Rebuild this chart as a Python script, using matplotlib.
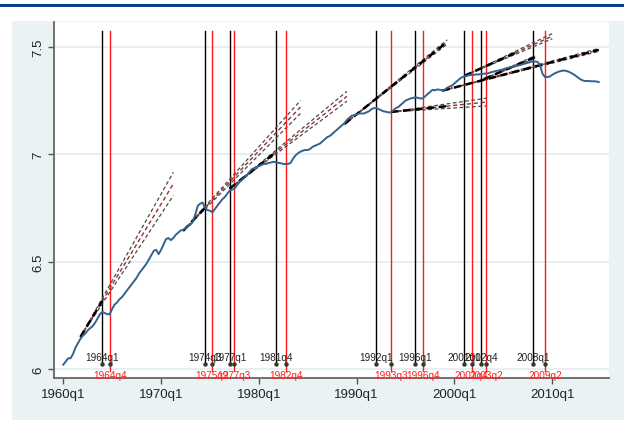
import matplotlib
matplotlib.use('Agg')
import matplotlib.pyplot as plt
from matplotlib.patches import Rectangle

plt.rcParams['font.family'] = ['Liberation Sans', 'DejaVu Sans']

# ---- data: quarterly index (1960q1 = 0) and log level ----
series_start_q = 0
series_v = [
    6.02, 6.035, 6.05, 6.05, 6.07, 6.10, 6.12, 6.14, 6.155, 6.165,
    6.18, 6.19, 6.20, 6.215, 6.235, 6.255, 6.266, 6.26, 6.255, 6.255,
    6.28, 6.30, 6.31, 6.325, 6.335, 6.35, 6.365, 6.38, 6.395, 6.41,
    6.425, 6.445, 6.46, 6.475, 6.49, 6.51, 6.53, 6.55, 6.555, 6.535,
    6.555, 6.58, 6.605, 6.61, 6.60, 6.61, 6.625, 6.635, 6.645, 6.648,
    6.655, 6.665, 6.672, 6.685, 6.72, 6.76, 6.77, 6.775, 6.75, 6.74,
    6.737, 6.73, 6.745, 6.76, 6.775, 6.79, 6.80, 6.815, 6.83, 6.835,
    6.84, 6.855, 6.87, 6.88, 6.89, 6.90, 6.915, 6.93, 6.935, 6.94,
    6.945, 6.95, 6.955, 6.955, 6.96, 6.962, 6.965, 6.963, 6.96, 6.958,
    6.955, 6.955, 6.955, 6.96, 6.98, 6.995, 7.005, 7.012, 7.017, 7.02,
    7.02, 7.025, 7.035, 7.04, 7.045, 7.05, 7.06, 7.07, 7.08, 7.085,
    7.095, 7.105, 7.115, 7.125, 7.135, 7.145, 7.16, 7.17, 7.18, 7.182,
    7.185, 7.19, 7.19, 7.19, 7.195, 7.20, 7.21, 7.215, 7.215, 7.21,
    7.205, 7.20, 7.198, 7.195, 7.195, 7.205, 7.215, 7.22, 7.23, 7.24,
    7.25, 7.255, 7.26, 7.262, 7.265, 7.263, 7.26, 7.26, 7.27, 7.28,
    7.29, 7.30, 7.298, 7.302, 7.30, 7.298, 7.30, 7.31, 7.315, 7.32,
    7.33, 7.34, 7.35, 7.358, 7.362, 7.365, 7.368, 7.37, 7.37, 7.372,
    7.372, 7.374, 7.375, 7.376, 7.378, 7.382, 7.385, 7.388, 7.39, 7.393,
    7.396, 7.40, 7.403, 7.405, 7.408, 7.41, 7.413, 7.416, 7.42, 7.423,
    7.426, 7.43, 7.432, 7.432, 7.43, 7.415, 7.375, 7.36, 7.36, 7.362,
    7.37, 7.377, 7.382, 7.386, 7.389, 7.39, 7.387, 7.383, 7.377, 7.37,
    7.362, 7.353, 7.346, 7.342, 7.341, 7.341, 7.34, 7.34, 7.339, 7.336,
]
series_q = list(range(series_start_q, series_start_q + len(series_v)))

peak_q = [16, 58, 68, 87, 128, 144, 164, 171, 192]
peak_labels = ['1964q1', '1974q3', '1977q1', '1981q4', '1992q1',
               '1996q1', '2001q1', '2002q4', '2008q1']
trough_q = [19, 61, 70, 91, 134, 147, 167, 173, 197]
trough_labels = ['1964q4', '1975q2', '1977q3', '1982q4', '1993q3',
                 '1996q4', '2001q4', '2003q2', '2009q2']

# projected trends: start, end, band half-width at end, end of bold segment
proj_start_q = [7, 49, 68, 115, 134, 164, 155, 172]
proj_start_v = [6.149, 6.643, 6.84, 7.141, 7.197, 7.365, 7.296, 7.35]
proj_end_q = [45, 97, 116, 157, 173, 200, 219, 193]
proj_end_v = [6.862, 7.22, 7.27, 7.523, 7.243, 7.55, 7.486, 7.453]
proj_band = [0.054, 0.03, 0.023, 0.01, 0.018, 0.012, 0.007, 0.006]
proj_bold_end_q = [16, 58, 87, 157, 158, 185, 219, 193]

x_ticks = [0, 40, 80, 120, 160, 200]
x_tick_labels = ['1960q1', '1970q1', '1980q1', '1990q1', '2000q1', '2010q1']
y_ticks = [6, 6.5, 7, 7.5]
y_tick_labels = ['6', '6.5', '7', '7.5']

# ---- figure ----
fig = plt.figure(figsize=(6.24, 4.27), dpi=100)
fig.patch.set_facecolor('white')
W, H = 624, 427
fig.add_artist(Rectangle((12 / W, 1 - 421 / H), 1 - 12 / W, (421 - 22) / H,
                         transform=fig.transFigure, facecolor='#eaf2f3',
                         edgecolor='none', zorder=0))
fig.add_artist(Rectangle((0, 1 - 8 / H), 1, 3.5 / H, transform=fig.transFigure,
                         facecolor='#0a3c8c', edgecolor='none', zorder=0))

ax = fig.add_axes([54 / W, 1 - 379 / H, (609 - 54) / W, (379 - 23) / H])
ax.set_facecolor('white')
ax.set_xlim(-3.8, 223.2)
ax.set_ylim(5.958, 7.616)

for yt in y_ticks:
    ax.axhline(yt, color='#e6eef1', lw=1.3, zorder=1)

# vertical lines and labels
y_line_top = 7.574
for q, lab in zip(peak_q, peak_labels):
    ax.plot([q, q], [6.024, y_line_top], color='black', lw=1.0, zorder=3)
    ax.plot([q], [6.024], marker='o', ms=2.2, color='#2e3d2e', zorder=6)
    ax.text(q, 6.056, lab, fontsize=7.2, color='#222222', ha='center',
            va='center', zorder=7)
for q, lab in zip(trough_q, trough_labels):
    ax.plot([q, q], [5.99, y_line_top], color='#ff1a1a', lw=1.0, zorder=3)
    ax.plot([q], [6.024], marker='o', ms=2.2, color='#2e3d2e', zorder=6)
    ax.text(q, 5.972, lab, fontsize=7.2, color='#ff2020', ha='center',
            va='center', zorder=7)

# projections
for sq, sv, eq, ev, bw, bq in zip(proj_start_q, proj_start_v, proj_end_q,
                                  proj_end_v, proj_band, proj_bold_end_q):
    for sgn in (1, -1):
        ax.plot([sq, eq], [sv, ev + sgn * bw], color='#4a4a4a', lw=0.9,
                dashes=(3, 2), zorder=4)
    ax.plot([sq, eq], [sv, ev], color='#9b3030', lw=1.0, dashes=(3, 2),
            zorder=4)
    bv = sv + (ev - sv) * (bq - sq) / (eq - sq)
    ax.plot([sq, bq], [sv, bv], color='black', lw=1.8, dashes=(3, 1.8),
            zorder=5)

ax.plot(series_q, series_v, color='#33628c', lw=1.4, zorder=5)

# axes styling
for s in ('top', 'right'):
    ax.spines[s].set_visible(False)
for s in ('left', 'bottom'):
    ax.spines[s].set_color('#666666')
    ax.spines[s].set_linewidth(1.3)
ax.set_xticks(x_ticks)
ax.set_xticklabels(x_tick_labels, fontsize=9.5, color='#222222')
ax.set_yticks(y_ticks)
ax.set_yticklabels(y_tick_labels, fontsize=9.5, color='#222222', rotation=90,
                   va='center')
ax.tick_params(axis='both', direction='out', length=4, width=1,
               color='#555555', pad=3)

fig.savefig('out.png', dpi=100, facecolor='white')
